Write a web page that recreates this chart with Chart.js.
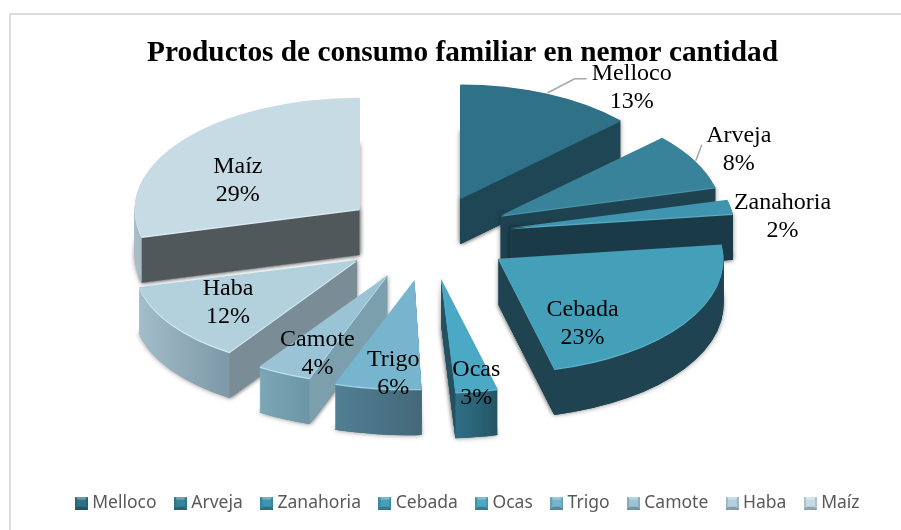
<!DOCTYPE html>
<html><head><meta charset="utf-8">
<style>html,body{margin:0;padding:0;background:#fff}canvas{display:block}</style>
<script src="https://cdn.jsdelivr.net/npm/chart.js@4"></script></head>
<body><canvas id="c" width="901" height="530"></canvas>
<script>
const categories = ['Melloco','Arveja','Zanahoria','Cebada','Ocas','Trigo','Camote','Haba','Maíz'];
const shares = [13,8,2,23,3,6,4,12,29];
const titleText = 'Productos de consumo familiar en nemor cantidad';
const topColors = ['#2F7287','#38829A','#3F95B0','#449FB8','#4BA9C5','#77B5CE','#9AC4D6','#B3D0DD','#C7DBE5'];
const rimColors = ['#2F7287','#4A93A9','#5AAAC2','#5FB3CA','#62BAD3','#A0D4E6','#BEE2EE','#D6EDF5','#DDEEF5'];
const wallLeft = ['#1F4655','#1E4250','#1B3A47','#1F4350','#2F7087','#527F94','#7CA7B7','#A3BDCA','#A9BCC6'];
const wallRight = ['#1F4655','#1E4250','#1B3A47','#1F4350','#255566','#436878','#6C95A5','#7D98A6','#A9BCC6'];
const sideColors = ['#1F4655','#1E4250','#1B3A47','#1F4350','#24505F','#436878','#7C9FAE','#7A8D96','#51585C'];
const labelShift = [[82,-5],[41,-11],[52,10],[-100,0],[1,-6],[5,-17],[22,-23],[51,-25],[55,40]];
const leaderSlices = {0:[[27,-14],[39,-14]],1:[[6,-16]]};
const sliceSkew = [0,0,0,0,0,-0.07,-0.08,-0.09,0];
const sliceScaleX = [0.975,0.985,1,1,1.01,1.04,1,0.99,1];
const sliceScaleY = [1,1,1,1,1,0.96,0.95,0.96,0.98];
const apexNudge = [[0,1],[0,0],[0,0],[2,-1],[1,1],[-2,2],[-4,1],[-2,-1],[-1,-1]];
const CX=427, CY=236, R=225, S=0.505, EXPLODE=84, DEPTH=46;

function swatch(c){
  const k=document.createElement('canvas');k.width=13;k.height=13;const x=k.getContext('2d');
  x.fillStyle=c;x.fillRect(0,0,13,13);
  x.fillStyle='rgba(255,255,255,.28)';x.beginPath();x.moveTo(0,0);x.lineTo(13,0);x.lineTo(10,3);x.lineTo(3,3);x.closePath();x.fill();
  x.fillStyle='rgba(0,0,0,.25)';x.beginPath();x.moveTo(0,13);x.lineTo(13,13);x.lineTo(10,10);x.lineTo(3,10);x.closePath();x.fill();
  x.fillStyle='rgba(0,0,0,.12)';x.fillRect(0,0,2,13);x.fillRect(11,0,2,13);
  return k;
}
const geom = a => {
  const mid=(a.startAngle+a.endAngle)/2+Math.PI/2;
  return {mid, ax:CX+EXPLODE*Math.sin(mid), ay:CY-EXPLODE*S*Math.cos(mid),
          t0:a.startAngle+Math.PI/2, t1:a.endAngle+Math.PI/2};
};
const pie3d = {
  id:'pie3d',
  afterLayout(chart){ chart.legend.left += 14; },
  beforeDraw(chart){
    const c=chart.ctx;c.save();c.strokeStyle='#DDDDDD';c.lineWidth=2;
    c.beginPath();c.moveTo(10,530);c.lineTo(10,14);c.lineTo(901,14);c.stroke();c.restore();
  },
  beforeDatasetDraw(chart,args){
    const c=chart.ctx, arcs=args.meta.data;
    const order=arcs.map((a,i)=>({a,i,g:geom(a)})).sort((p,q)=>p.g.ay-q.g.ay);
    const paint=(o,k,fill)=>{
      const a=o.a,base=a.options,i=o.i,n=apexNudge[i];
      a.options=Object.assign({},base,{backgroundColor:fill,borderWidth:0,offset:0,spacing:0});
      c.save();c.translate(o.g.ax+n[0],o.g.ay+n[1]+k);
      c.transform(1,0,sliceSkew[i],1,0,0);
      c.scale(sliceScaleX[i],S*sliceScaleY[i]);
      c.translate(-a.x,-a.y);a.draw(c);c.restore();
      a.options=base;
    };
    const quad=(o,t,fill)=>{
      const g=o.g,i=o.i,n=apexNudge[i],ax=g.ax+n[0],ay=g.ay+n[1];
      const dy=-R*S*sliceScaleY[i]*Math.cos(t);
      const rx=ax+R*sliceScaleX[i]*Math.sin(t)+sliceSkew[i]*dy,ry=ay+dy;
      c.fillStyle=fill;c.beginPath();c.moveTo(ax,ay);c.lineTo(rx,ry);c.lineTo(rx,ry+DEPTH);c.lineTo(ax,ay+DEPTH);c.closePath();c.fill();
    };
    const sides=o=>{const r=[];
      if(Math.sin(o.g.t0)<-1e-6)r.push(o.g.t0);
      if(Math.sin(o.g.t1)>1e-6)r.push(o.g.t1);return r;};
    order.forEach(o=>{
      const {a,i,g}=o;
      const xs=[Math.sin(g.t0),Math.sin(g.t1)];
      const x0=a.x+R*Math.min(...xs),x1=a.x+R*Math.max(...xs);
      const grad=c.createLinearGradient(x0,0,Math.max(x1,x0+1),0);
      grad.addColorStop(0,wallLeft[i]);grad.addColorStop(1,wallRight[i]);
      c.save();c.shadowColor='rgba(0,0,0,.5)';c.shadowBlur=5;
      paint(o,DEPTH,wallRight[i]);
      sides(o).forEach(t=>quad(o,t,sideColors[i]));
      c.restore();
      for(let k=DEPTH;k>=1;k--)paint(o,k,grad);
      sides(o).forEach(t=>quad(o,t,sideColors[i]));
      paint(o,1.2,rimColors[i]);
      paint(o,0,topColors[i]);
    });
    return false;
  },
  afterDatasetsDraw(chart){
    const c=chart.ctx, arcs=chart.getDatasetMeta(0).data, vals=chart.data.datasets[0].data;
    arcs.forEach((a,i)=>{
      const g=geom(a);
      const px=g.ax+R*Math.sin(g.mid), py=g.ay-R*S*Math.cos(g.mid);
      if(leaderSlices[i]){
        c.save();c.strokeStyle='#A6A6A6';c.lineWidth=1.5;c.beginPath();c.moveTo(px-2,py);
        leaderSlices[i].forEach(p=>c.lineTo(px-2+p[0],py+p[1]));c.stroke();c.restore();
      }
      const tx=px+labelShift[i][0], ty=py+labelShift[i][1];
      c.save();c.fillStyle='#000';c.font='24px "Liberation Serif"';c.textAlign='center';c.textBaseline='middle';
      c.fillText(categories[i],tx,ty-14);
      c.fillText(vals[i]+'%',tx,ty+14);
      c.restore();
    });
  }
};
new Chart(document.getElementById('c'),{
  type:'pie',
  plugins:[pie3d],
  data:{labels:categories,datasets:[{data:shares,backgroundColor:topColors,borderWidth:0,radius:R}]},
  options:{
    responsive:false,animation:false,events:[],
    layout:{padding:{left:24,right:0,top:0,bottom:8}},
    plugins:{
      tooltip:{enabled:false},
      title:{display:true,text:titleText,color:'#000',padding:{top:36,bottom:4},
        font:{family:'"Liberation Serif"',size:29.3,weight:'bold',lineHeight:1.2}},
      legend:{position:'bottom',
        labels:{usePointStyle:true,boxWidth:4,boxHeight:13,padding:22,color:'#595959',
          font:{family:'"Noto Sans"',size:17.5},
          generateLabels(chart){
            return Chart.overrides.pie.plugins.legend.labels.generateLabels(chart).map((l,i)=>
              Object.assign(l,{pointStyle:swatch(topColors[i]),lineWidth:0,fontColor:'#595959'}));
          }}}
    }
  }
});
</script></body></html>
